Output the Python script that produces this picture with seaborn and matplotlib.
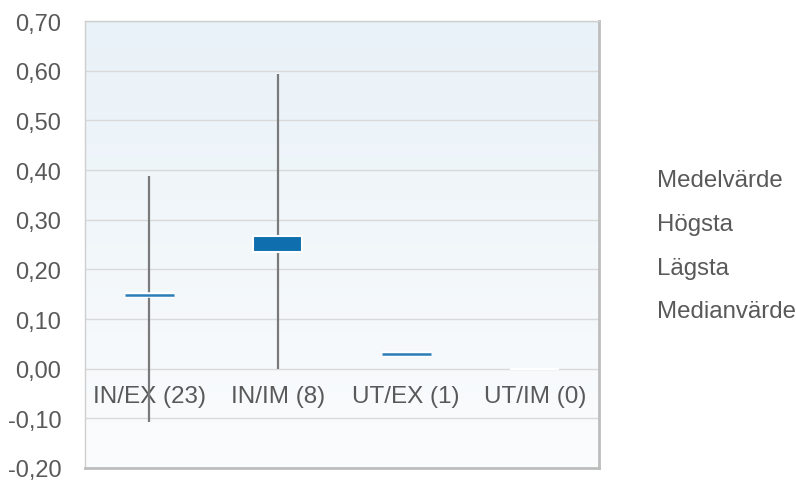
import numpy as np
import matplotlib
matplotlib.use('Agg')
import matplotlib.pyplot as plt
import matplotlib.patheffects as pe
from matplotlib.lines import Line2D
import seaborn as sns

categories = ['IN/EX (23)', 'IN/IM (8)', 'UT/EX (1)', 'UT/IM (0)']
counts = [23, 8, 1, 0]
medel = [0.148, 0.268, 0.030, 0.0]
hogsta = [0.388, 0.594, 0.030, 0.0]
lagsta = [-0.108, 0.0, 0.030, 0.0]
median = [0.148, 0.234, 0.030, 0.0]
legend_labels = ['Medelvärde', 'Högsta', 'Lägsta', 'Medianvärde']
yticks = np.round(np.arange(-0.2, 0.71, 0.1), 2)

sns.set_style('white')
plt.rcParams['font.family'] = ['Liberation Sans', 'DejaVu Sans']

txt = '#595959'
blue = '#0f6eae'

fig = plt.figure(figsize=(7.96, 4.81), dpi=100)
ax = fig.add_axes([0.1068, 0.025, 0.6457, 0.929])

# background gradient, light blue at top to almost white at bottom
grad = np.linspace(0, 1, 256).reshape(-1, 1)
cmap = matplotlib.colors.LinearSegmentedColormap.from_list('bg', ['#e9f2f8', '#fbfcfd'])
ax.imshow(grad, aspect='auto', cmap=cmap, extent=[0, 1, 0, 1],
          transform=ax.transAxes, zorder=0)

lo = np.minimum(medel, median)
hi = np.maximum(medel, median)
sns.barplot(x=categories, y=hi - lo, bottom=lo, color=blue, width=0.38,
            saturation=1, edgecolor='white', linewidth=1.5, errorbar=None,
            ax=ax, zorder=4)

# whiskers (Högsta / Lägsta)
ax.vlines(range(len(categories)), lagsta, hogsta, color='#7a7a7a', lw=1.6, zorder=3)

# flat boxes where mean == median
for i, (a, b, n) in enumerate(zip(lo, hi, counts)):
    if b - a < 0.005 and n > 0:
        ax.hlines(a, i - 0.19, i + 0.19, color='#2a7db8', lw=1.8, zorder=5,
                  path_effects=[pe.Stroke(linewidth=4, foreground='white'), pe.Normal()])

# category labels sit inside the plot, just below zero
for i, c in enumerate(categories):
    ax.text(i, -0.056, c, ha='center', va='center', fontsize=17.5, color=txt, zorder=2)

ax.set_ylim(-0.2, 0.7)
ax.set_xlim(-0.5, len(categories) - 0.5)
ax.set_yticks(yticks)
ax.set_yticklabels([f'{v:.2f}'.replace('.', ',') for v in yticks], fontsize=17, color=txt)
ax.set_xticks([])
ax.tick_params(axis='y', length=0, pad=17)
ax.set_xlabel('')
ax.set_ylabel('')
for y in yticks:
    ax.axhline(y, color='#d9d9d9', lw=1, zorder=1)

for s in ['left', 'top']:
    ax.spines[s].set_color('#cfcfcf')
    ax.spines[s].set_linewidth(1)
for s in ['right', 'bottom']:
    ax.spines[s].set_color('#bdbdbd')
    ax.spines[s].set_linewidth(2)

handles = [Line2D([], [], color='none') for _ in legend_labels]
fig.legend(handles, legend_labels, loc='center left', bbox_to_anchor=(0.8254, 0.487),
           frameon=False, fontsize=17.3, labelcolor=txt, handlelength=0,
           handletextpad=0, labelspacing=0.9, borderpad=0, borderaxespad=0)

fig.savefig('out.png', dpi=100)
